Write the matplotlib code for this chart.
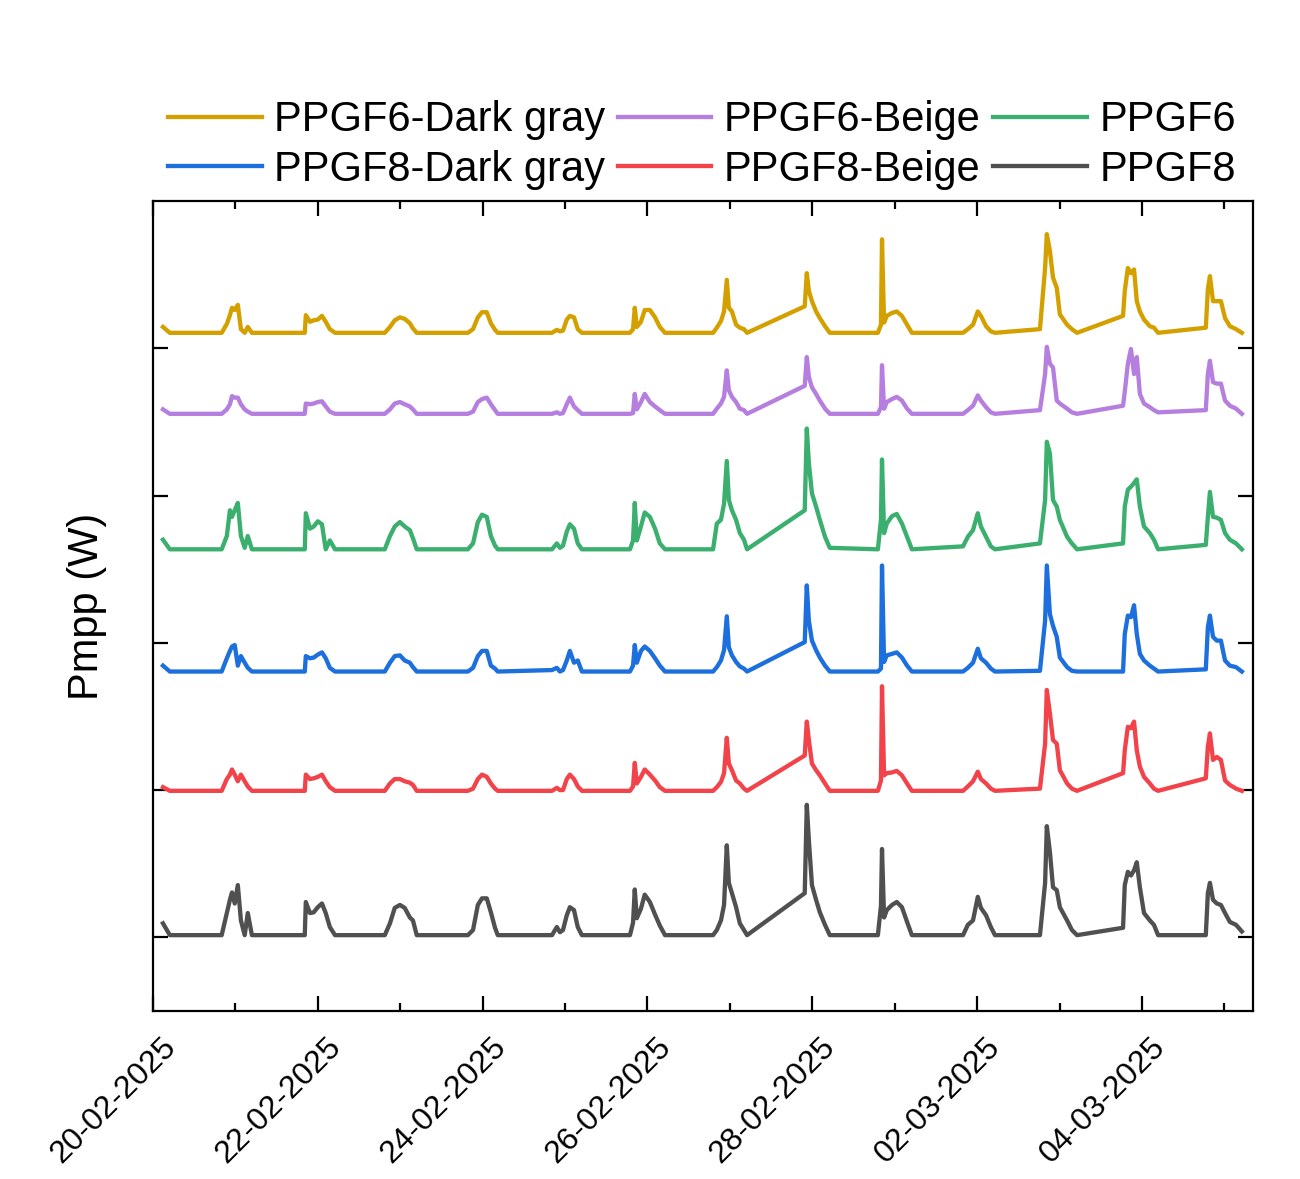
"""
Stacked Pmpp traces for the six PPGF modules, 20-02-2025 .. 04-03-2025.
Each trace is shifted by its own offset so the daily curves do not overlap.
"""

import matplotlib
matplotlib.use("Agg")
import matplotlib.dates as mdates
import matplotlib.pyplot as plt
import matplotlib.transforms as mtransforms
import pandas as pd

plt.rcParams["font.family"] = ["Liberation Sans", "DejaVu Sans"]

START = pd.Timestamp("2025-02-20")

# hours since 20-02-2025 00:00 (same sampling for every module)
hours = [
    2.9, 4.9,
    20.0, 21.5, 22.4, 23.0, 23.8, 24.7, 25.6, 26.7, 27.6, 28.8,
    44.2, 44.5, 45.7, 46.8, 48.0, 49.2, 50.3, 51.5, 53.0,
    67.5, 69.0, 70.4, 71.9, 73.3, 74.8, 75.7, 76.8,
    91.7, 93.2, 94.6, 95.8, 97.2, 98.4, 99.6, 100.4,
    116.2, 117.6, 118.5, 119.4, 120.5, 121.4, 122.6, 123.7, 124.9,
    138.9, 139.8, 140.3, 140.9, 142.1, 143.2, 144.7, 146.2, 147.6, 149.1,
    163.1, 164.2, 165.4, 166.3, 167.1, 167.7, 168.6, 169.8, 170.9, 172.1, 173.0,
    189.8, 190.4, 191.0, 191.9, 193.1, 194.2, 195.7, 197.1,
    211.1, 212.0, 212.3, 212.9, 213.7, 215.2, 216.6, 218.1, 219.6, 221.0,
    235.9, 237.3, 238.8, 240.2, 241.1, 242.6, 244.0, 245.2,
    258.3, 259.8, 260.3, 261.2, 262.1, 263.2, 264.1, 266.2, 267.6, 269.1,
    282.5, 283.0, 283.9, 284.8, 285.7, 286.5, 287.4, 288.6, 290.3, 291.5, 292.7,
    306.6, 307.2, 307.8, 308.7, 309.8, 311.0, 312.2, 313.6, 315.4, 317.1,
]

ppgf6_dark_gray = [
    0.8, 0,
    0, 1.2, 2.4, 3.4, 3.1, 3.8, 0.5, 0, 0.8, 0,
    0, 2.4, 1.5, 1.7, 1.8, 2.3, 1.5, 0.5, 0,
    0, 0.8, 1.7, 2.1, 1.9, 1.3, 0.6, 0,
    0, 0.5, 2.1, 2.8, 2.8, 1.3, 0.4, 0,
    0, 0.4, 0.2, 0.3, 1.8, 2.3, 2.1, 0.5, 0,
    0, 0.5, 3.4, 0.8, 1.5, 3.1, 3.1, 2.1, 0.8, 0,
    0, 0.7, 1.6, 2.9, 7.2, 3.4, 2.9, 1.1, 0.7, 0.5, 0,
    3.6, 8.1, 5.7, 4.3, 2.9, 2.0, 0.9, 0,
    0, 1.1, 12.7, 1.4, 2.3, 2.7, 2.9, 2.3, 1.1, 0,
    0, 0.5, 1.1, 2.9, 2.3, 0.9, 0.2, 0,
    0.5, 8.8, 13.4, 11.1, 7.5, 6.1, 2.5, 1.1, 0.5, 0,
    2.3, 5.7, 8.8, 8.1, 8.6, 4.3, 2.9, 1.8, 0.9, 0.7, 0,
    0.7, 5.9, 7.7, 4.3, 4.3, 4.3, 2.0, 0.9, 0.5, 0,
]

ppgf6_beige = [
    0.6, 0,
    0, 0.6, 1.3, 2.4, 2.2, 2.2, 1.3, 0.6, 0.3, 0,
    0, 1.4, 1.3, 1.4, 1.6, 1.7, 1.0, 0.3, 0,
    0, 0.6, 1.4, 1.6, 1.3, 1.0, 0.6, 0,
    0, 0.3, 1.6, 2.0, 2.2, 1.3, 0.5, 0,
    0, 0.2, 0, 0.1, 1.3, 2.2, 1.0, 0.5, 0,
    0, 0.1, 2.7, 0.6, 1.6, 2.7, 1.6, 1.0, 0.5, 0,
    0, 0.7, 1.4, 2.3, 5.9, 3.2, 2.3, 1.6, 0.7, 0.5, 0,
    3.8, 7.7, 5.0, 3.6, 2.7, 1.8, 0.7, 0,
    0, 0.9, 6.6, 0.7, 1.6, 2.0, 2.3, 1.8, 0.7, 0,
    0, 0.5, 1.1, 2.5, 1.8, 0.9, 0.2, 0,
    0.5, 5.4, 9.1, 6.8, 6.3, 1.8, 1.4, 0.7, 0.2, 0,
    1.1, 3.0, 6.8, 8.8, 5.4, 7.7, 2.7, 1.4, 0.9, 0.5, 0.2,
    0.5, 5.4, 7.2, 4.3, 4.1, 4.1, 1.8, 1.1, 0.7, 0,
]

ppgf6 = [
    1.3, 0,
    0, 1.8, 5.3, 4.4, 5.3, 6.3, 1.8, 0.2, 1.8, 0,
    0, 4.9, 2.8, 3.1, 3.8, 3.4, 0, 1.2, 0,
    0, 1.8, 3.1, 3.7, 3.1, 2.6, 1.5, 0,
    0, 0.8, 3.7, 4.7, 4.4, 1.8, 0.5, 0,
    0, 0.8, 0.2, 0.5, 2.4, 3.4, 2.8, 0.8, 0,
    0, 1.2, 6.3, 1.2, 3.1, 5.0, 4.4, 2.8, 0.8, 0,
    0, 3.5, 4.0, 6.2, 12.0, 6.7, 5.3, 4.0, 2.2, 1.3, 0,
    5.3, 16.4, 11.7, 7.6, 5.8, 4.0, 1.7, 0.2,
    0, 4.0, 12.2, 2.2, 3.5, 4.5, 4.8, 3.5, 1.7, 0,
    0.4, 1.7, 2.6, 4.9, 3.1, 1.7, 0.4, 0,
    0.8, 6.7, 14.6, 13.0, 6.7, 5.8, 4.0, 1.7, 0.8, 0,
    0.8, 5.8, 8.1, 8.5, 9.0, 9.5, 5.8, 3.1, 2.2, 1.3, 0,
    0.6, 4.4, 7.8, 4.4, 4.3, 4.0, 2.2, 1.3, 0.8, 0,
]

ppgf8_dark_gray = [
    0.8, 0,
    0, 1.8, 2.8, 3.4, 3.6, 0.8, 2.1, 1.2, 0.5, 0,
    0, 2.1, 1.8, 1.9, 2.3, 2.6, 1.8, 0.5, 0,
    0, 1.2, 2.1, 2.2, 1.5, 1.2, 0.6, 0,
    0, 0.5, 2.1, 2.8, 2.8, 0.8, 0.4, 0,
    0.2, 0.5, 0, 0.2, 1.5, 2.8, 1.2, 1.5, 0,
    0, 0.8, 3.6, 1.2, 2.8, 3.4, 2.8, 1.8, 0.8, 0,
    0, 0.6, 1.5, 2.9, 7.5, 3.3, 2.2, 1.3, 0.7, 0.4, 0,
    4.0, 11.7, 6.9, 4.2, 2.9, 1.9, 0.8, 0,
    0, 0.4, 14.4, 1.3, 2.2, 2.4, 2.6, 1.9, 0.8, 0,
    0, 0.5, 1.2, 3.1, 1.8, 1.2, 0.4, 0,
    0.1, 6.9, 14.4, 7.8, 6.2, 4.7, 1.9, 0.6, 0.1, 0,
    0, 5.1, 7.6, 7.4, 9.0, 5.1, 2.4, 1.5, 0.8, 0.4, 0,
    0.3, 6.0, 7.6, 4.7, 4.2, 4.2, 1.5, 0.8, 0.6, 0,
]

ppgf8_beige = [
    0.5, 0,
    0, 1.6, 2.2, 2.9, 2.2, 1.3, 2.2, 1.3, 0.6, 0,
    0, 2.2, 1.6, 1.7, 1.9, 2.2, 1.3, 0.5, 0,
    0, 1.0, 1.6, 1.6, 1.3, 1.1, 0.8, 0,
    0, 0.3, 1.6, 2.2, 1.9, 1.0, 0.3, 0,
    0, 0.4, 0.1, 0.1, 1.6, 2.2, 1.6, 0.6, 0,
    0, 0.6, 3.8, 1.0, 1.9, 2.9, 2.2, 1.4, 0.5, 0,
    0, 0.5, 1.2, 2.4, 7.2, 3.7, 2.8, 1.4, 1.0, 0.3, 0,
    4.8, 9.4, 6.9, 3.7, 2.8, 2.1, 1.0, 0,
    0, 1.4, 14.2, 2.1, 2.4, 2.5, 2.7, 2.1, 1.0, 0,
    0, 0.6, 1.3, 2.6, 1.6, 1.0, 0.3, 0,
    0.3, 6.4, 13.7, 10.5, 6.9, 6.4, 2.8, 1.0, 0.3, 0,
    2.4, 5.5, 8.7, 8.5, 9.4, 5.5, 3.3, 1.9, 1.0, 0.3, 0,
    1.7, 6.0, 7.8, 4.2, 4.6, 4.2, 1.4, 0.8, 0.3, 0,
]

ppgf8 = [
    1.6, 0,
    0, 3.0, 4.8, 5.8, 4.3, 6.8, 2.0, 0, 3.0, 0,
    0, 4.5, 3.0, 3.1, 3.8, 4.3, 3.0, 1.1, 0,
    0, 1.6, 3.7, 4.1, 3.7, 2.4, 2.0, 0,
    0, 0.7, 4.1, 5.0, 5.0, 3.1, 1.0, 0,
    0, 1.1, 0.4, 0.7, 2.7, 3.8, 3.4, 1.1, 0,
    0, 1.7, 6.2, 2.3, 3.6, 5.5, 4.5, 2.8, 1.3, 0,
    0, 0.7, 2.0, 4.1, 12.2, 7.1, 5.7, 3.8, 1.6, 0.7, 0,
    5.7, 17.7, 12.9, 6.8, 4.8, 3.1, 1.4, 0,
    0, 4.0, 11.7, 2.4, 3.4, 4.1, 4.5, 3.8, 1.8, 0,
    0, 1.4, 2.0, 5.2, 3.7, 2.7, 1.1, 0,
    0, 7.1, 14.8, 11.3, 6.5, 6.1, 3.8, 2.0, 0.7, 0,
    1.0, 6.8, 8.6, 8.1, 8.8, 9.9, 6.5, 3.0, 2.0, 1.4, 0,
    0, 5.7, 7.1, 4.8, 4.3, 4.1, 3.0, 1.8, 1.4, 0.5,
]

labels = ["PPGF6-Dark gray", "PPGF6-Beige", "PPGF6",
          "PPGF8-Dark gray", "PPGF8-Beige", "PPGF8"]
series = [ppgf6_dark_gray, ppgf6_beige, ppgf6,
          ppgf8_dark_gray, ppgf8_beige, ppgf8]
offsets = [82.1, 71.1, 52.7, 36.1, 19.9, 0.3]   # vertical stacking shift (W)
colors = ["#D4A000", "#B57EDF", "#3BAF6E", "#1C6FDC", "#F2434A", "#505050"]

times = START + pd.to_timedelta(hours, unit="h")

fig = plt.figure(figsize=(13, 11.79), dpi=100)
ax = fig.add_axes([0.1177, 0.1425, 0.8461, 0.6870])

lines = {}
for lab, vals, off, col in zip(labels, series, offsets, colors):
    assert len(vals) == len(hours), lab
    ln, = ax.plot(times, [v + off for v in vals], color=col, lw=3.1,
                  solid_joinstyle="round", label=lab)
    lines[lab] = ln

ax.set_xlim(START, START + pd.Timedelta(days=13.347))
ax.set_ylim(-10, 100)
ax.set_yticks([0, 20, 40, 60, 80])
ax.set_yticklabels([])
ax.set_ylabel("Pmpp (W)", fontsize=30, labelpad=20)

ax.xaxis.set_major_locator(mdates.DayLocator(bymonthday=[20, 22, 24, 26, 28, 2, 4]))
ax.xaxis.set_minor_locator(mdates.DayLocator())
ax.xaxis.set_major_formatter(mdates.DateFormatter("%d-%m-%Y"))

ax.tick_params(which="both", direction="in", top=True, right=True, width=1.6)
ax.tick_params(which="major", length=11, pad=13)
ax.tick_params(which="minor", length=6)
for sp in ax.spines.values():
    sp.set_linewidth(1.6)

# rotated date labels, nudged a little to the right (after tick_params,
# which would otherwise reset the label transforms)
shift = mtransforms.ScaledTranslation(8 / 100, -3 / 100, fig.dpi_scale_trans)
for lbl in ax.get_xticklabels():
    lbl.set_rotation(45)
    lbl.set_ha("right")
    lbl.set_rotation_mode("anchor")
    lbl.set_fontsize(23)
    lbl.set_transform(lbl.get_transform() + shift)

# legend laid out row-wise: 6-series on top row, 8-series underneath
order = ["PPGF6-Dark gray", "PPGF8-Dark gray", "PPGF6-Beige",
         "PPGF8-Beige", "PPGF6", "PPGF8"]
fig.legend([lines[k] for k in order], order, loc="center",
           bbox_to_anchor=(0.540, 0.877), ncol=3, frameon=False,
           fontsize=30, handlelength=2.25, handletextpad=0.3,
           columnspacing=0.3, labelspacing=0.22)

fig.savefig("out.png", dpi=100)
